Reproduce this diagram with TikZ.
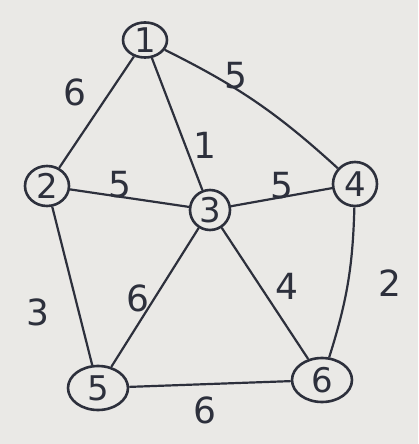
\documentclass[tikz,border=0pt]{standalone}
\usepackage{fontspec}
\setmainfont{DejaVu Sans}
\usetikzlibrary{shapes.geometric}
\definecolor{paper}{RGB}{234,233,230}
\definecolor{ink}{RGB}{45,48,60}
\tikzset{
  vert/.style={draw=ink, line width=1.3pt, ellipse, inner sep=0pt, text=ink, font=\fontsize{17}{19}\selectfont},
  edge/.style={draw=ink, line width=1.1pt},
  wt/.style={text=ink, font=\fontsize{18}{20}\selectfont}
}
\begin{document}
\begin{tikzpicture}[x=0.5pt,y=-0.5pt]
\fill[paper] (0,0) rectangle (418,444);
\useasboundingbox (0,0) rectangle (418,444);
\node[vert, minimum width=22pt, minimum height=17pt] (n1) at (145,40) {1};
\node[vert, minimum width=22pt, minimum height=20pt] (n2) at (47,186) {2};
\node[vert, minimum width=20pt, minimum height=20pt] (n3) at (210,210) {3};
\node[vert, minimum width=22pt, minimum height=22pt] (n4) at (355,184) {4};
\node[vert, minimum width=30pt, minimum height=22pt] (n5) at (98,388) {5};
\node[vert, minimum width=30pt, minimum height=22pt] (n6) at (322,380) {6};
\draw[edge] (n1) -- (n2);
\draw[edge] (n1) -- (n3);
\draw[edge] (n1) to[bend left=8] (n4);
\draw[edge] (n2) -- (n3);
\draw[edge] (n3) -- (n4);
\draw[edge] (n2) -- (n5);
\draw[edge] (n3) -- (n5);
\draw[edge] (n3) -- (n6);
\draw[edge] (n4) to[bend left=8] (n6);
\draw[edge] (n5) -- (n6);
\node[wt] (w12) at (75,92) {6};
\node[wt] (w13) at (205,145) {1};
\node[wt] (w14) at (236,76) {5};
\node[wt] (w23) at (120,185) {5};
\node[wt] (w34) at (282,186) {5};
\node[wt] (w25) at (38,312) {3};
\node[wt] (w35) at (138,298) {6};
\node[wt] (w36) at (287,286) {4};
\node[wt] (w46) at (390,283) {2};
\node[wt] (w56) at (205,410) {6};
\end{tikzpicture}
\end{document}
